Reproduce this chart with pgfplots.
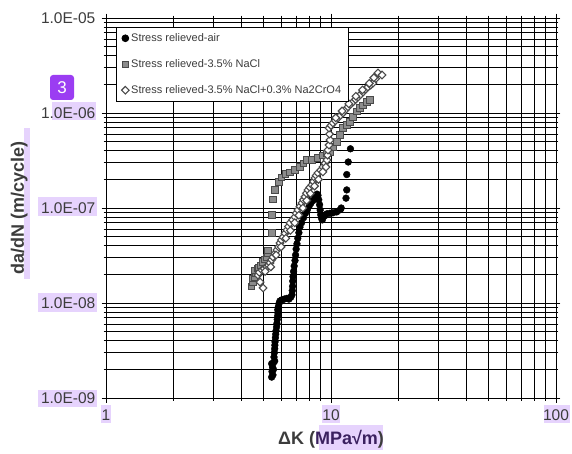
\documentclass[border=0pt]{standalone}
\usepackage{fontspec}
\setmainfont{Liberation Sans}
\usepackage{pgfplots}
\pgfplotsset{compat=1.18}
\definecolor{hl}{HTML}{E6D3FD}
\definecolor{badge}{HTML}{9B3DF2}
\definecolor{txt}{HTML}{3C3C3C}
\definecolor{labpurple}{HTML}{3B2160}
\definecolor{sqfill}{HTML}{8C8C8C}
\definecolor{sqedge}{HTML}{4A4A4A}

\begin{document}
\begin{tikzpicture}
\path[use as bounding box] (0pt,0pt) rectangle (572pt,453pt);
% annotation highlights
\fill[hl] (52pt,333pt) rectangle (96pt,351pt);
\fill[hl] (38pt,237pt) rectangle (97pt,256pt);
\fill[hl] (38pt,141pt) rectangle (97pt,160pt);
\fill[hl] (38pt,46pt) rectangle (97pt,63pt);
\fill[hl] (101pt,30pt) rectangle (111pt,48pt);
\fill[hl] (322pt,30pt) rectangle (340pt,48pt);
\fill[hl] (544pt,30pt) rectangle (570pt,48pt);
\fill[hl] (24pt,174pt) rectangle (30pt,325pt);
\fill[hl] (319pt,3pt) rectangle (383pt,28pt);
\fill[badge, rounded corners=3pt] (50pt,353pt) rectangle (74pt,378pt);
\node[text=white, font=\fontsize{17}{17}\selectfont] at (62pt,365.5pt) {3};

\begin{axis}[
  at={(106pt,55pt)}, anchor=south west,
  scale only axis, width=450pt, height=380pt,
  xmode=log, ymode=log,
  xmin=1, xmax=100, ymin=1e-9, ymax=1e-5,
  xtick={1,10,100}, xticklabels={1,10,100},
  ytick={1e-9,1e-8,1e-7,1e-6,1e-5},
  yticklabels={1.0E-09,1.0E-08,1.0E-07,1.0E-06,1.0E-05},
  grid=both,
  major grid style={black, line width=0.9pt},
  minor grid style={black, line width=0.9pt},
  axis line style={black, line width=0.9pt},
  major tick length=9pt, minor tick length=5pt,
  tick style={black, line width=0.8pt},
  major tick style={/pgfplots/tick align=center},
  tick label style={font=\fontsize{15.5}{16}\selectfont, text=txt},
  yticklabel style={anchor=east, inner sep=0pt, xshift=-6pt},
  xticklabel style={anchor=north, inner sep=0pt, yshift=-7pt},
  xlabel={\textbf{ΔK (\textcolor{labpurple}{MPa√m})}},
  ylabel={\textbf{da/dN (m/cycle)}},
  label style={font=\fontsize{18}{20}\selectfont, text=txt},
  x label style={at={(axis description cs:0.5,-0.108)}, anchor=center},
  y label style={at={(axis description cs:-0.193,0.5)}, anchor=center},
  legend image code/.code={\draw[#1] plot coordinates {(0pt,0pt)};},
  legend cell align=left,
  legend style={at={(axis description cs:0.0225,0.976)}, anchor=north west,
    font=\fontsize{11}{13}\selectfont, text=txt, draw=black, line width=0.8pt, fill=white,
    inner xsep=5pt, inner ysep=5pt, row sep=14.5pt,
    nodes={inner xsep=2pt, inner ysep=1pt, line width=0.6pt}},
  clip=true,
]
% Stress relieved - air
\addplot[only marks, mark=*, mark size=3.4pt, black, mark options={fill=black, draw=black}] coordinates {
(5.45,1.66e-9) (5.52,1.75e-9) (5.47,1.9e-9) (5.55,2.0e-9) (5.50,2.1e-9) (5.45,2.3e-9) (5.55,2.35e-9) (5.62,2.45e-9)
(5.58,2.7e-9) (5.60,3.0e-9) (5.62,3.3e-9) (5.63,3.6e-9) (5.64,3.9e-9) (5.66,4.3e-9) (5.68,4.7e-9) (5.70,5.1e-9)
(5.73,5.6e-9) (5.75,6.1e-9) (5.77,6.7e-9) (5.79,7.3e-9) (5.81,7.9e-9) (5.80,8.5e-9) (5.84,9.2e-9) (5.88,9.9e-9)
(5.93,1.05e-8) (6.05,1.08e-8) (6.2,1.1e-8) (6.37,1.12e-8) (6.5,1.1e-8) (6.62,1.15e-8) (6.71,1.22e-8)
(6.73,1.35e-8) (6.75,1.5e-8) (6.76,1.7e-8) (6.78,1.9e-8) (6.82,2.15e-8) (6.86,2.45e-8) (6.92,2.8e-8) (6.96,3.2e-8)
(7.0,3.7e-8) (7.06,4.2e-8) (7.12,4.8e-8) (7.2,5.5e-8) (7.28,6.3e-8) (7.4,7.0e-8) (7.55,7.9e-8) (7.7,8.8e-8)
(7.85,9.6e-8) (8.0,1.05e-7) (8.15,1.13e-7) (8.32,1.2e-7) (8.5,1.3e-7) (8.67,1.4e-7) (8.75,1.36e-7)
(8.82,1.22e-7) (8.9,1.08e-7) (8.95,9.5e-8) (9.0,8.5e-8) (9.08,7.8e-8) (9.15,7.5e-8)
(9.35,8.2e-8) (9.6,8.7e-8) (9.9,8.8e-8) (10.2,8.9e-8) (10.6,9.1e-8) (11.0,9.6e-8) (11.1,1.0e-7)
(11.66,1.27e-7) (11.75,1.55e-7) (11.75,2.25e-7) (11.93,3.05e-7) (12.2,4.2e-7)
};
\addlegendentry{Stress relieved-air}
% Stress relieved - 3.5% NaCl
\addplot[only marks, mark=square*, mark size=3.1pt, mark options={fill=sqfill, draw=sqedge, line width=0.9pt}] coordinates {
(4.44,1.48e-8) (4.50,1.65e-8) (4.48,1.8e-8) (4.55,1.88e-8) (4.6,2.05e-8) (4.59,2.22e-8) (4.7,2.3e-8) (4.74,2.39e-8)
(4.85,2.5e-8) (4.94,2.7e-8) (5.05,2.85e-8) (5.19,3.0e-8) (5.25,3.3e-8) (5.25,3.61e-8)
(5.47,5.46e-8) (5.47,8.44e-8) (5.52,1.24e-7) (5.64,1.55e-7) (5.87,1.88e-7) (6.0,2.1e-7) (6.25,2.28e-7) (6.57,2.39e-7)
(6.92,2.51e-7) (7.28,2.7e-7) (7.55,2.95e-7) (7.82,3.2e-7) (8.23,3.2e-7) (8.67,3.36e-7) (9.21,3.61e-7) (9.6,3.75e-7)
(9.9,3.88e-7) (10.2,4.39e-7) (10.63,4.95e-7) (10.96,5.87e-7) (11.31,6.95e-7) (11.78,7.5e-7) (12.15,8.04e-7)
(12.53,9.08e-7) (13.05,1.03e-6) (13.46,1.13e-6) (13.87,1.21e-6) (14.45,1.31e-6) (14.9,1.37e-6)
};
\addlegendentry{Stress relieved-3.5\% NaCl}
% Stress relieved - 3.5% NaCl + 0.3% Na2CrO4
\addplot[only marks, mark=square*, mark size=2.7pt, mark options={rotate=45, fill=white, draw=sqedge, line width=1.1pt}] coordinates {
(4.99,1.44e-8) (4.84,1.66e-8) (4.74,1.97e-8) (4.80,2.1e-8) (4.94,2.22e-8) (5.05,2.3e-8) (5.19,2.39e-8) (5.28,2.5e-8)
(5.36,2.64e-8) (5.45,2.85e-8) (5.52,3.05e-8) (5.62,3.3e-8) (5.75,3.61e-8) (5.85,3.9e-8) (5.93,4.28e-8) (6.02,4.6e-8)
(6.12,4.95e-8) (6.25,5.4e-8) (6.37,5.87e-8) (6.47,6.4e-8) (6.57,6.95e-8) (6.75,7.5e-8) (6.92,8.04e-8) (7.0,8.8e-8)
(7.13,9.53e-8) (7.28,1.04e-7) (7.43,1.13e-7) (7.55,1.22e-7) (7.66,1.31e-7) (7.78,1.43e-7) (7.9,1.55e-7) (8.05,1.65e-7)
(8.23,1.75e-7) (8.35,1.9e-7) (8.49,2.07e-7) (8.6,2.2e-7) (8.75,2.34e-7) (9.0,2.5e-7) (9.21,2.7e-7) (9.4,2.95e-7)
(9.6,3.2e-7) (9.65,3.6e-7) (9.7,4.08e-7) (9.8,4.6e-7) (9.9,5.2e-7) (9.85,6.0e-7) (9.8,6.95e-7) (10.0,7.4e-7)
(10.2,7.85e-7) (10.45,8.3e-7) (10.73,8.86e-7) (11.0,9.4e-7) (11.3,1.0e-6) (11.6,1.08e-6) (11.9,1.16e-6) (12.2,1.23e-6)
(12.53,1.31e-6) (12.85,1.39e-6) (13.18,1.47e-6) (13.5,1.56e-6) (13.87,1.66e-6) (14.2,1.77e-6) (14.6,1.88e-6) (15.0,1.97e-6)
(15.37,2.07e-6) (15.8,2.3e-6) (16.18,2.64e-6) (16.86,2.51e-6)
(5.1,2.15e-8) (5.4,2.4e-8) (5.7,3.2e-8) (6.0,3.9e-8) (6.3,4.8e-8) (6.6,5.8e-8) (6.9,7.0e-8) (7.2,8.4e-8)
(7.5,1.0e-7) (7.8,1.2e-7) (8.1,1.42e-7) (8.45,1.7e-7) (8.8,2.0e-7) (9.2,2.4e-7) (9.5,2.7e-7)
(10.5,8.9e-7) (11.2,1.05e-6) (12.0,1.25e-6) (12.9,1.5e-6) (13.8,1.75e-6) (14.8,2.05e-6) (15.5,2.35e-6)
};
\addlegendentry{Stress relieved-3.5\% NaCl+0.3\% Na2CrO4}
\end{axis}
\end{tikzpicture}
\end{document}
